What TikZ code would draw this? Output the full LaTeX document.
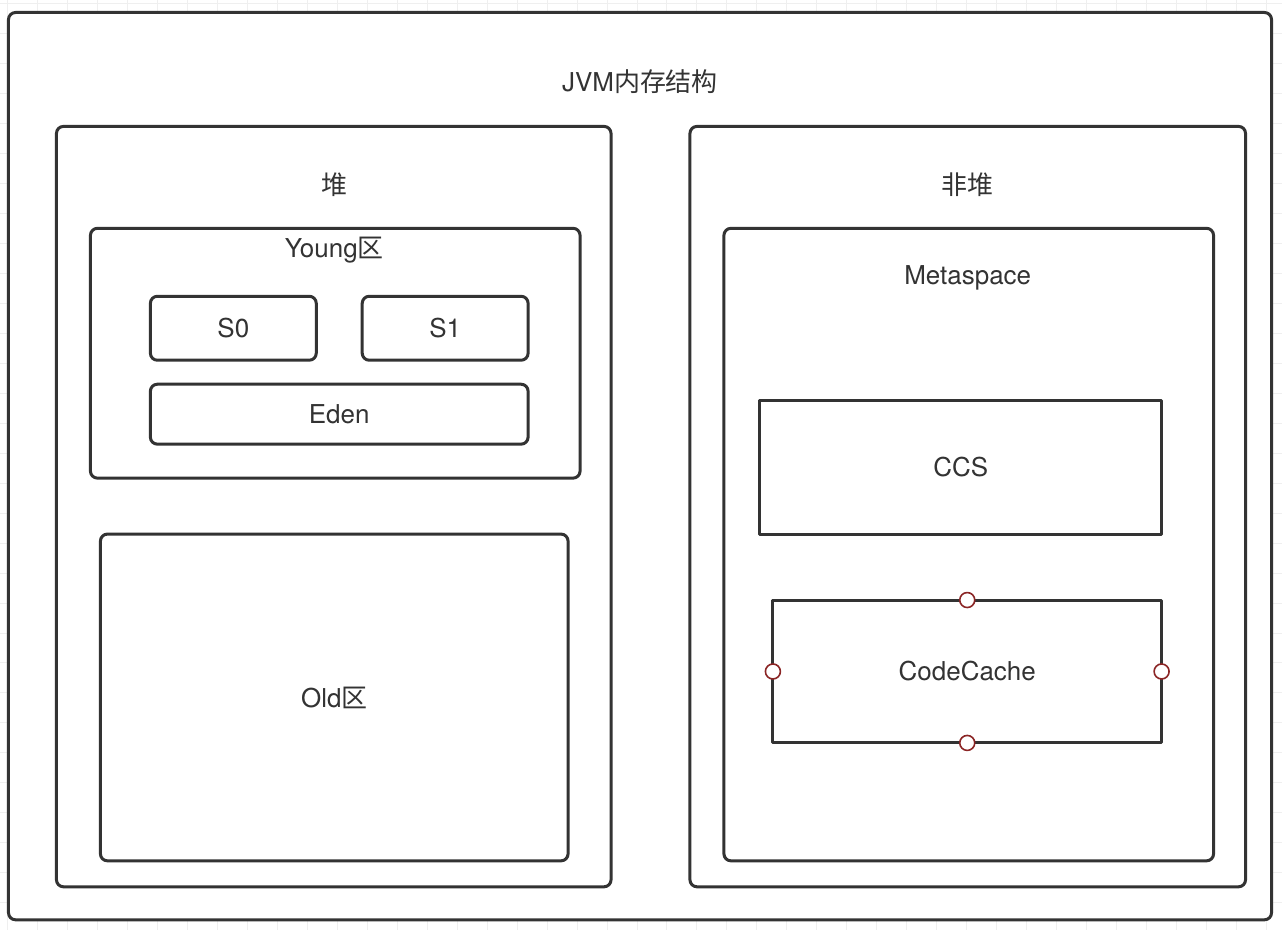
\documentclass[tikz,border=0pt]{standalone}
\usepackage{fontspec}
\setmainfont{TeX Gyre Heros}
\newfontfamily\cjk{Noto Sans CJK SC}
\definecolor{ink}{HTML}{333333}
\definecolor{gridline}{HTML}{EFEFEF}
\definecolor{port}{HTML}{8B2525}

\begin{document}
\begin{tikzpicture}[x=1pt, y=-1pt, line width=3pt, line join=round,
    font=\fontsize{26}{31}\selectfont, text=ink,
    box/.style={draw=ink, fill=white, rounded corners=7pt, inner sep=0pt, outer sep=0pt},
    flatbox/.style={draw=ink, fill=white, inner sep=0pt, outer sep=0pt},
    title/.style={anchor=center, inner sep=0pt},
    portdot/.style={draw=port, fill=white, line width=1.6pt}]
  % ── 背景网格：30px 一格，偏移 (7,3) ──
  \foreach \x in {7,37,...,1277} \draw[gridline, line width=1pt] (\x,0) -- (\x,930);
  \foreach \y in {3,33,...,927} \draw[gridline, line width=1pt] (0,\y) -- (1282,\y);

  % ── 最外层 ──
  \node[box, minimum width=1264pt, minimum height=908pt] (jvm) at (640,466) {};
  \node[title] (jvmtitle) at (640,81) {JVM{\cjk 内存结构}};

  % ── 堆 / 非堆 ──
  \node[box, minimum width=555pt, minimum height=761pt] (heap) at (333.5,506.5) {};
  \node[box, minimum width=556pt, minimum height=761pt] (nonheap) at (968,506.5) {};
  \node[title] (heaptitle) at (334,184) {\cjk 堆};
  \node[title] (nonheaptitle) at (968,184) {\cjk 非堆};

  % ── Young 区：S0 S1 Eden ──
  \node[box, minimum width=490pt, minimum height=250pt] (young) at (335,353) {};
  \node[title] (youngtitle) at (334,250) {Young{\cjk 区}};
  \node[box, minimum width=166pt, minimum height=64pt] (s0) at (233,328) {S0};
  \node[box, minimum width=166pt, minimum height=64pt] (s1) at (445,328) {S1};
  \node[box, minimum width=378pt, minimum height=60pt] (eden) at (339,414) {Eden};

  % ── Old 区 ──
  \node[box, minimum width=468pt, minimum height=327pt] (old) at (334,697.5) {Old{\cjk 区}};

  % ── Metaspace：CCS + CodeCache ──
  \node[box, minimum width=490pt, minimum height=633pt] (meta) at (969,544.5) {};
  \node[title] (metatitle) at (968,278) {Metaspace};
  \node[flatbox, minimum width=402pt, minimum height=134pt] (ccs) at (961,467) {CCS};
  \node[flatbox, minimum width=389pt, minimum height=143pt] (code) at (967.5,671.5) {CodeCache};

  % ── CodeCache 四边中点的小圆 ──
  \foreach \a in {north, south, east, west}
    \draw[portdot] (code.\a) circle (7.5);

  \path[use as bounding box] (0,0) rectangle (1282,930);
\end{tikzpicture}
\end{document}
